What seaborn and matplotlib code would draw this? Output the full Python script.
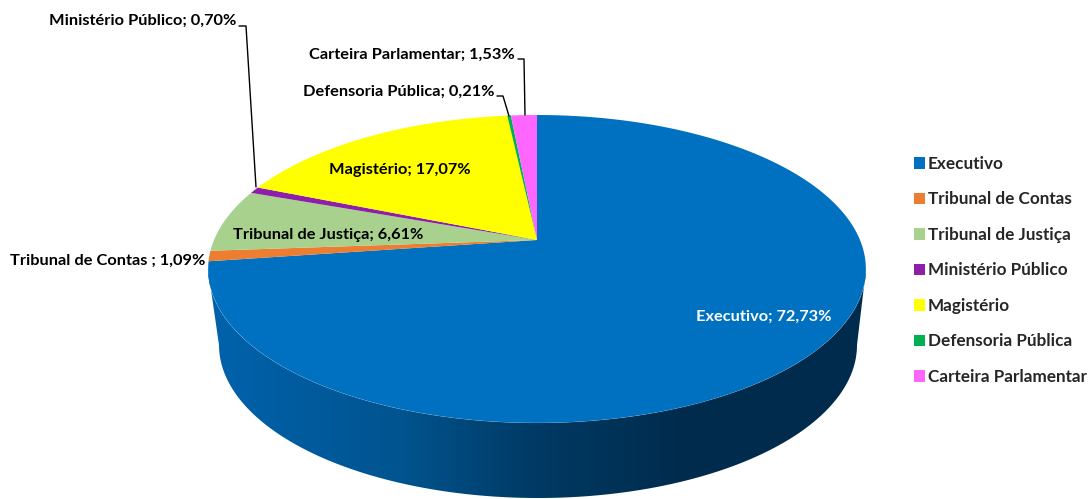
import numpy as np
import matplotlib
matplotlib.use("Agg")
import matplotlib.pyplot as plt
import seaborn as sns
from matplotlib.colors import LinearSegmentedColormap
from matplotlib.patches import Patch, Polygon

categories = ["Executivo", "Tribunal de Contas", "Tribunal de Justiça", "Ministério Público",
              "Magistério", "Defensoria Pública", "Carteira Parlamentar"]
shares = [72.73, 1.09, 6.61, 0.70, 17.07, 0.21, 1.53]
slice_labels = ["Executivo; 72,73%", "Tribunal de Contas ; 1,09%", "Tribunal de Justiça; 6,61%",
                "Ministério Público; 0,70%", "Magistério; 17,07%", "Defensoria Pública; 0,21%",
                "Carteira Parlamentar; 1,53%"]
colors = ["#0070C0", "#ED7D31", "#A9D18E", "#8E1FA8", "#FFFF00", "#00B050", "#FF66FF"]

sns.set_theme(style="white")
plt.rcParams["font.family"] = ["Lato", "DejaVu Sans"]
plt.rcParams["font.weight"] = "bold"

W, H = 1089, 499
fig = plt.figure(figsize=(W / 100, H / 100), dpi=100)
ax = fig.add_axes([0, 0, 1, 1])

wedges, _ = ax.pie(shares, colors=sns.color_palette(colors), startangle=90, counterclock=False)

# the chart is in perspective, so the apex is not in the middle of the ellipse
cx, apex_y = 537, 240
k = 0.188
spread_x, spread_y = 323, 148.5


def project(theta):
    u, v = np.cos(theta), np.sin(theta)
    return cx + spread_x * u / (1 + k * v), apex_y - spread_y * v / (1 + k * v)


ax.set_xlim(0, W)
ax.set_ylim(H, 0)
ax.set_aspect("auto")
ax.axis("off")

# flatten each pie wedge onto the tilted disc
for w in wedges:
    theta = np.radians(np.linspace(w.theta1, w.theta2, 200))
    x, y = project(theta)
    pts = np.column_stack([np.r_[cx, x], np.r_[apex_y, y]])
    ax.add_patch(Polygon(pts, closed=True, facecolor=w.get_facecolor(), edgecolor="none", zorder=3))
    w.remove()

# side of the pie: upper rim + lower rim, gradient clipped to it
phi = np.linspace(0, np.pi, 300)
top_x, top_y = cx + 329 * np.cos(phi), 269 + 154 * np.sin(phi)
bot_x, bot_y = 538 + 319 * np.cos(phi), 345 + 153 * np.sin(phi)
side_pts = np.column_stack([np.r_[top_x, bot_x[::-1]], np.r_[top_y, bot_y[::-1]]])
side = Polygon(side_pts, closed=True, facecolor="none", edgecolor="none")
ax.add_patch(side)
side_cmap = LinearSegmentedColormap.from_list(
    "side", [(0, "#0062AC"), (0.29, "#00548F"), (0.5, "#003A64"), (0.73, "#002B4C"), (1, "#002B4C")])
img = ax.imshow(np.linspace(0, 1, 330).reshape(1, -1), cmap=side_cmap, extent=(208, 866, 500, 260),
                aspect="auto", zorder=2)
img.set_clip_path(side)
ax.set_xlim(0, W)
ax.set_ylim(H, 0)

fs = 11.8
ax.text(763.5, 317, slice_labels[0], color="white", fontsize=fs, ha="center", va="center", zorder=5)
ax.text(107.5, 261, slice_labels[1], color="black", fontsize=fs, ha="center", va="center", zorder=5)
ax.text(328.5, 235, slice_labels[2], color="black", fontsize=fs, ha="center", va="center", zorder=5)
ax.text(143, 21, slice_labels[3], color="black", fontsize=fs, ha="center", va="center", zorder=5)
ax.text(399.5, 170, slice_labels[4], color="black", fontsize=fs, ha="center", va="center", zorder=5)
ax.text(399, 92, slice_labels[5], color="black", fontsize=fs, ha="center", va="center", zorder=5)
ax.text(411.5, 55, slice_labels[6], color="black", fontsize=fs, ha="center", va="center", zorder=5)

# leader lines
ax.plot([239, 246, 256], [26, 26, 187], color="black", lw=1, zorder=6)
ax.plot([497, 503, 509], [96, 96, 116], color="black", lw=1, zorder=6)
ax.plot([518, 524, 525], [59, 59, 115], color="black", lw=1, zorder=6)

handles = [Patch(facecolor=c, edgecolor="none", label=n) for c, n in zip(colors, categories)]
ax.legend(handles=handles, loc="upper left", bbox_to_anchor=(914 / W, 1 - 156 / H), frameon=False,
          fontsize=12.3, handlelength=0.65, handleheight=0.65, handletextpad=0.17,
          borderpad=0, borderaxespad=0, labelspacing=1.14)

plt.savefig("out.png", dpi=100)
